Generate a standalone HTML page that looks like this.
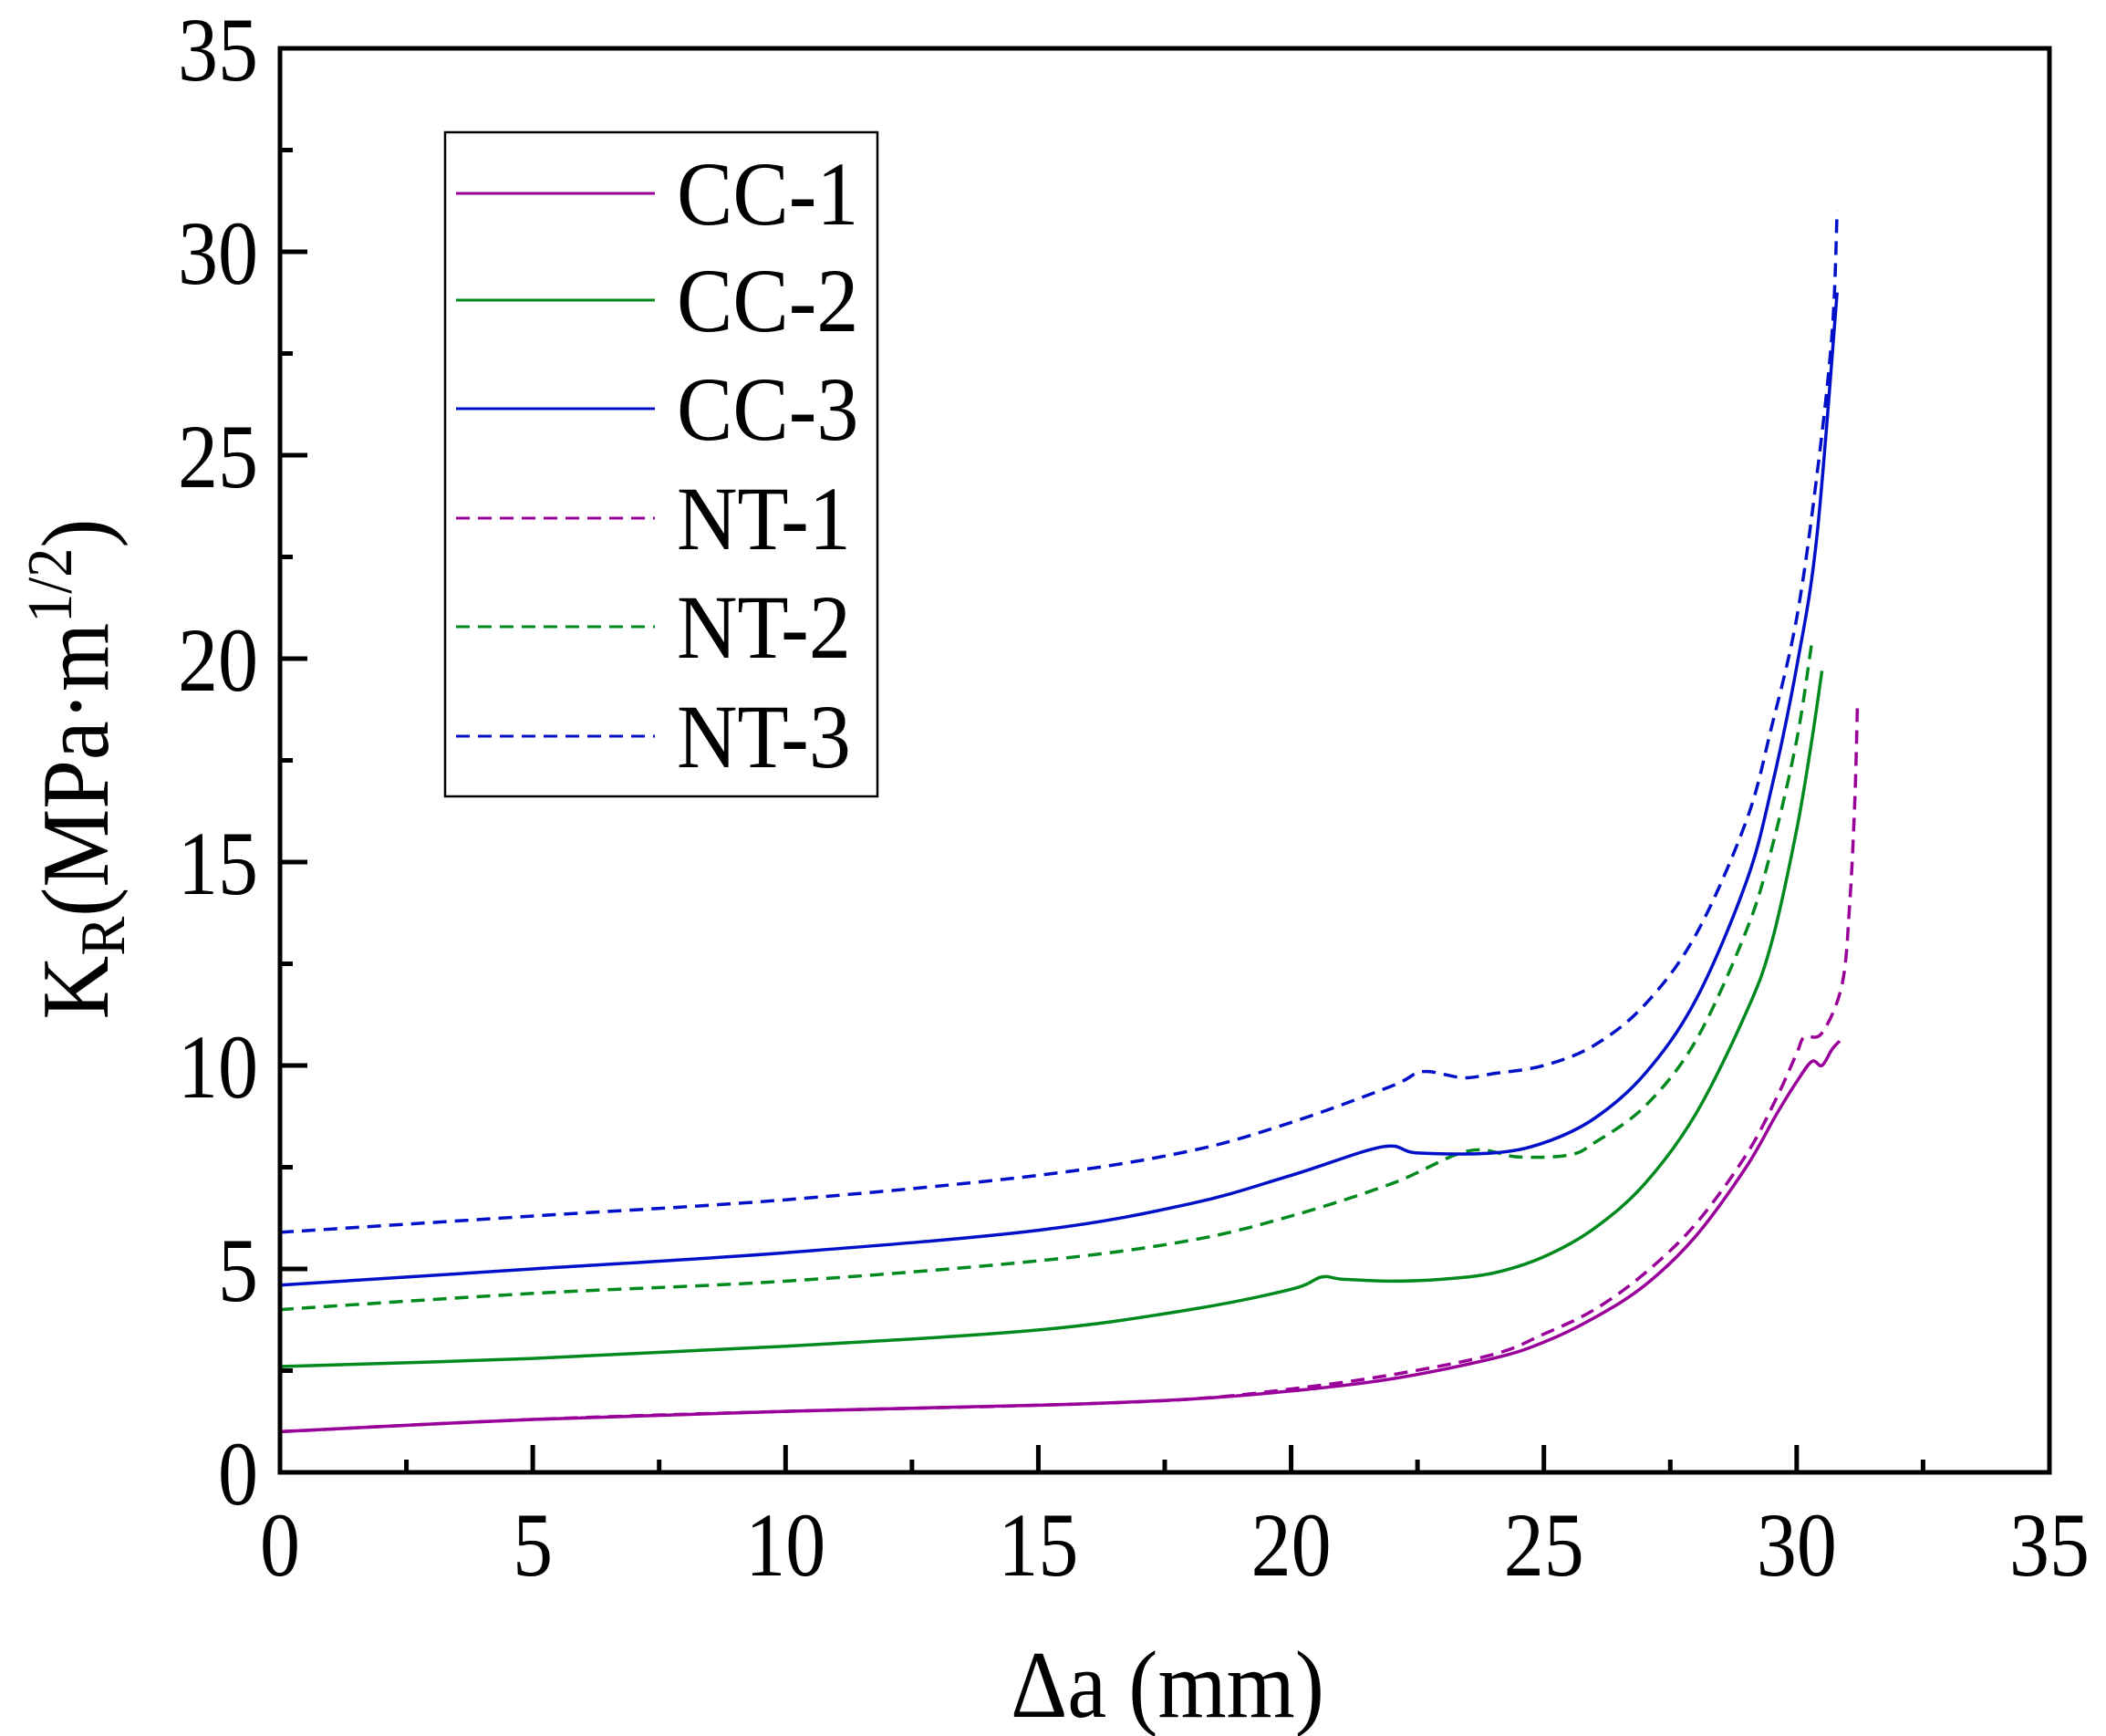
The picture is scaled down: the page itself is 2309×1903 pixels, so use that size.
<!DOCTYPE html>
<html><head><meta charset="utf-8"><style>
html,body{margin:0;padding:0;background:#fff;}
svg{display:block;}
text{font-family:"Liberation Serif",serif;fill:#000;}
</style></head><body>
<svg id="s" width="2309" height="1903" xmlns="http://www.w3.org/2000/svg">
<rect x="0" y="0" width="2309" height="1903" fill="#fff"/>
<g id="curves" fill="none" stroke-width="3.5" stroke-linejoin="round"></g>
<g id="ticks" stroke="#000" stroke-width="5"></g>
<rect x="307" y="53" width="1940" height="1561" fill="none" stroke="#000" stroke-width="5"/>
<g font-size="100" text-anchor="end" id="ylab"></g>
<g font-size="100" text-anchor="middle" id="xlab"></g>
<rect x="488" y="145" width="474" height="728" fill="#fff" stroke="#000" stroke-width="2.5"/>
<g id="leg" font-size="100"></g>
<text transform="translate(1280,1882) scale(0.92,1)" font-size="105" text-anchor="middle">Δa (mm)</text>
<text transform="translate(118,843) rotate(-90) scale(0.92,1)" font-size="105" text-anchor="middle">K<tspan font-size="70" dy="18">R</tspan><tspan dy="-18">(MPa·m</tspan><tspan font-size="70" dy="-40">1/2</tspan><tspan dy="40">)</tspan></text>
</svg>
<script>
var NS="http://www.w3.org/2000/svg";
function X(v){return 307+v*1940/35;}
function Y(v){return 1614-v*1561/35;}
function el(t,a,p){var e=document.createElementNS(NS,t);for(var k in a)e.setAttribute(k,a[k]);p.appendChild(e);return e;}
var tk=document.getElementById('ticks');
for(var i=0;i<=14;i++){var v=i*2.5,L=(i%2==0)?30:14;
 if(i>0&&i<14){el('line',{x1:X(v),y1:1614,x2:X(v),y2:1614-L},tk);el('line',{x1:307,y1:Y(v),x2:307+L,y2:Y(v)},tk);}}
var yl=document.getElementById('ylab'),xl=document.getElementById('xlab');
for(var i=0;i<=7;i++){var v=i*5;
 el('text',{transform:'translate(283,'+(Y(v)+35)+') scale(0.88,1)'},yl).textContent=v;
 el('text',{transform:'translate('+X(v)+',1727) scale(0.88,1)'},xl).textContent=v;}
var B='#0010c8',G='#008a1e',P='#990099';
var S=[
[P,0,[[0,1.0],[5,1.3],[10,1.5],[15,1.65],[18,1.8],[20,2.0],[22,2.3],[24,2.8],[25,3.2],[26,3.8],[27,4.6],[28,5.8],[29,7.5],[29.6,8.8],[30,9.6],[30.3,10.1],[30.5,10.0],[30.7,10.4],[30.85,10.6]]],
[P,1,[[0,1.0],[5,1.3],[10,1.5],[15,1.65],[18,1.8],[20,2.05],[22,2.4],[24,2.9],[25,3.4],[26,4.0],[27,4.9],[28,6.1],[29,7.8],[29.6,9.2],[30,10.3],[30.15,10.7],[30.5,10.8],[30.9,12],[31.05,14],[31.15,16.5],[31.2,18.8]]],
[G,0,[[0,2.6],[5,2.8],[10,3.1],[15,3.5],[18,4.0],[20,4.5],[20.6,4.8],[21,4.75],[22,4.7],[23,4.75],[24,4.9],[25,5.3],[26,6.0],[27,7.1],[28,8.8],[29,11.3],[29.5,13],[30,15.8],[30.3,18],[30.5,19.7]]],
[G,1,[[0,4.0],[5,4.4],[10,4.7],[15,5.2],[18,5.7],[20,6.3],[22,7.1],[23.5,7.9],[24.5,7.75],[25.5,7.8],[26,8.1],[27,9.0],[28,10.6],[29,13.3],[29.5,15.3],[30,18],[30.3,20.4]]],
[B,0,[[0,4.6],[5,5.0],[10,5.4],[15,5.95],[18,6.6],[20,7.3],[21.8,8.0],[22.5,7.85],[24,7.85],[25,8.1],[26,8.7],[27,9.8],[28,11.6],[29,14.5],[29.5,16.8],[30,19.8],[30.4,23],[30.8,29]]],
[B,1,[[0,5.9],[5,6.3],[10,6.7],[15,7.3],[18,7.9],[20,8.6],[22,9.5],[22.6,9.85],[23.4,9.7],[24,9.8],[25,10.0],[26,10.5],[27,11.5],[28,13.2],[29,16.0],[29.5,18.3],[30,21],[30.4,24.5],[30.7,28],[30.8,31]]]];
function smooth(pts){var p=pts.map(function(q){return [X(q[0]),Y(q[1])];});
 var d='M'+p[0][0].toFixed(1)+','+p[0][1].toFixed(1);
 for(var i=0;i<p.length-1;i++){var p0=p[i-1]||p[i],p1=p[i],p2=p[i+1],p3=p[i+2]||p2;
  var c1x=p1[0]+(p2[0]-p0[0])/6,c1y=p1[1]+(p2[1]-p0[1])/6,c2x=p2[0]-(p3[0]-p1[0])/6,c2y=p2[1]-(p3[1]-p1[1])/6;
  d+='C'+c1x.toFixed(1)+','+c1y.toFixed(1)+' '+c2x.toFixed(1)+','+c2y.toFixed(1)+' '+p2[0].toFixed(1)+','+p2[1].toFixed(1);}
 return d;}
var cg=document.getElementById('curves');
S.forEach(function(s){var a={d:smooth(s[2]),stroke:s[0]};if(s[1])a['stroke-dasharray']='15,9';el('path',a,cg);});
var lg=document.getElementById('leg');
var L=[[P,0,'CC-1'],[G,0,'CC-2'],[B,0,'CC-3'],[P,1,'NT-1'],[G,1,'NT-2'],[B,1,'NT-3']];
var ys=[212,329,448,568,687,807];
L.forEach(function(l,i){var a={x1:500,y1:ys[i],x2:718,y2:ys[i],stroke:l[0],'stroke-width':3};if(l[1])a['stroke-dasharray']='15,9';el('line',a,lg);
 el('text',{transform:'translate(742,'+(ys[i]+34)+') scale(0.92,1)'},lg).textContent=l[2];});
</script>
</body></html>
